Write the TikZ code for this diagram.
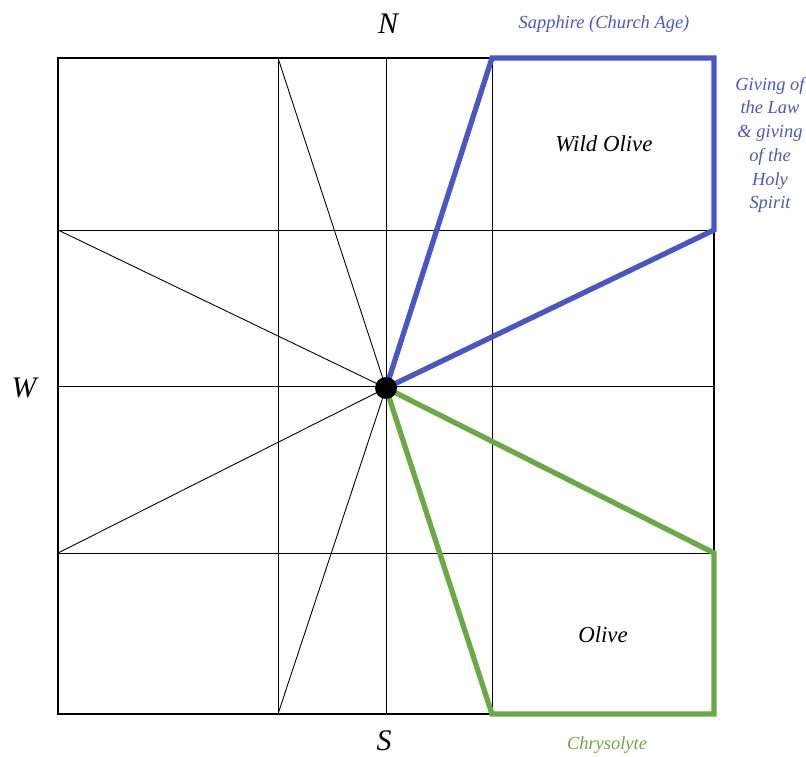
\documentclass[tikz,border=0pt]{standalone}
\usepackage{fontspec}
\setmainfont{Liberation Serif}
\begin{document}
\begin{tikzpicture}[x=0.02cm, y=-0.02cm,
  grid/.style={draw=black, line width=0.5pt},
  frame/.style={draw=black, line width=1.2pt},
  sapphire/.style={draw=sapphireblue, line width=3pt, line join=miter},
  chrysolyte/.style={draw=chrysgreen, line width=3pt, line join=miter},
  compass/.style={font=\itshape\fontsize{17}{17}\selectfont, inner sep=0pt},
  stone/.style={font=\itshape\fontsize{13}{13}\selectfont},
  gemlabel/.style={font=\itshape\fontsize{10.5}{13.5}\selectfont, align=center}]
  \definecolor{sapphireblue}{RGB}{74,86,198}
  \definecolor{chrysgreen}{RGB}{106,170,68}
  \useasboundingbox (0,0) rectangle (806,757);
  % corners and grid points
  \coordinate (c) at (386,388);
  \coordinate (nw) at (58,58);
  \coordinate (se) at (714,714);
  \coordinate (n1) at (278,58);
  \coordinate (n2) at (492,58);
  \coordinate (ne) at (714,58);
  \coordinate (w1) at (58,230);
  \coordinate (e1) at (714,230);
  \coordinate (w2) at (58,553);
  \coordinate (e2) at (714,553);
  \coordinate (s1) at (278,714);
  \coordinate (s2) at (492,714);
  % grid
  \draw[grid] (278,58) -- (278,714);
  \draw[grid] (386,58) -- (386,714);
  \draw[grid] (492,58) -- (492,714);
  \draw[grid] (58,230) -- (714,230);
  \draw[grid] (58,386) -- (714,386);
  \draw[grid] (58,553) -- (714,553);
  \draw[grid] (c) -- (n1);
  \draw[grid] (c) -- (w1);
  \draw[grid] (c) -- (w2);
  \draw[grid] (c) -- (s1);
  \draw[frame] (nw) rectangle (se);
  % stones
  \draw[sapphire] (c) -- (n2) -- (ne) -- (e1) -- cycle;
  \draw[chrysolyte] (c) -- (e2) -- (se) -- (s2) -- cycle;
  \fill (c) circle (11);
  % labels
  \node[compass] (north) at (388,24) {N};
  \node[compass] (west) at (24,388) {W};
  \node[compass] (south) at (384,741) {S};
  \node[stone] (wild) at (604,144) {Wild Olive};
  \node[stone] (olive) at (603,635) {Olive};
  \node[gemlabel, text=sapphireblue] (saph) at (604,24) {Sapphire (Church Age)};
  \node[gemlabel, text=sapphireblue] (law) at (770,145) {Giving of\\the Law\\\&{} giving\\of the\\Holy\\Spirit};
  \node[gemlabel, text=chrysgreen] (chrys) at (607,745) {Chrysolyte};
\end{tikzpicture}
\end{document}
